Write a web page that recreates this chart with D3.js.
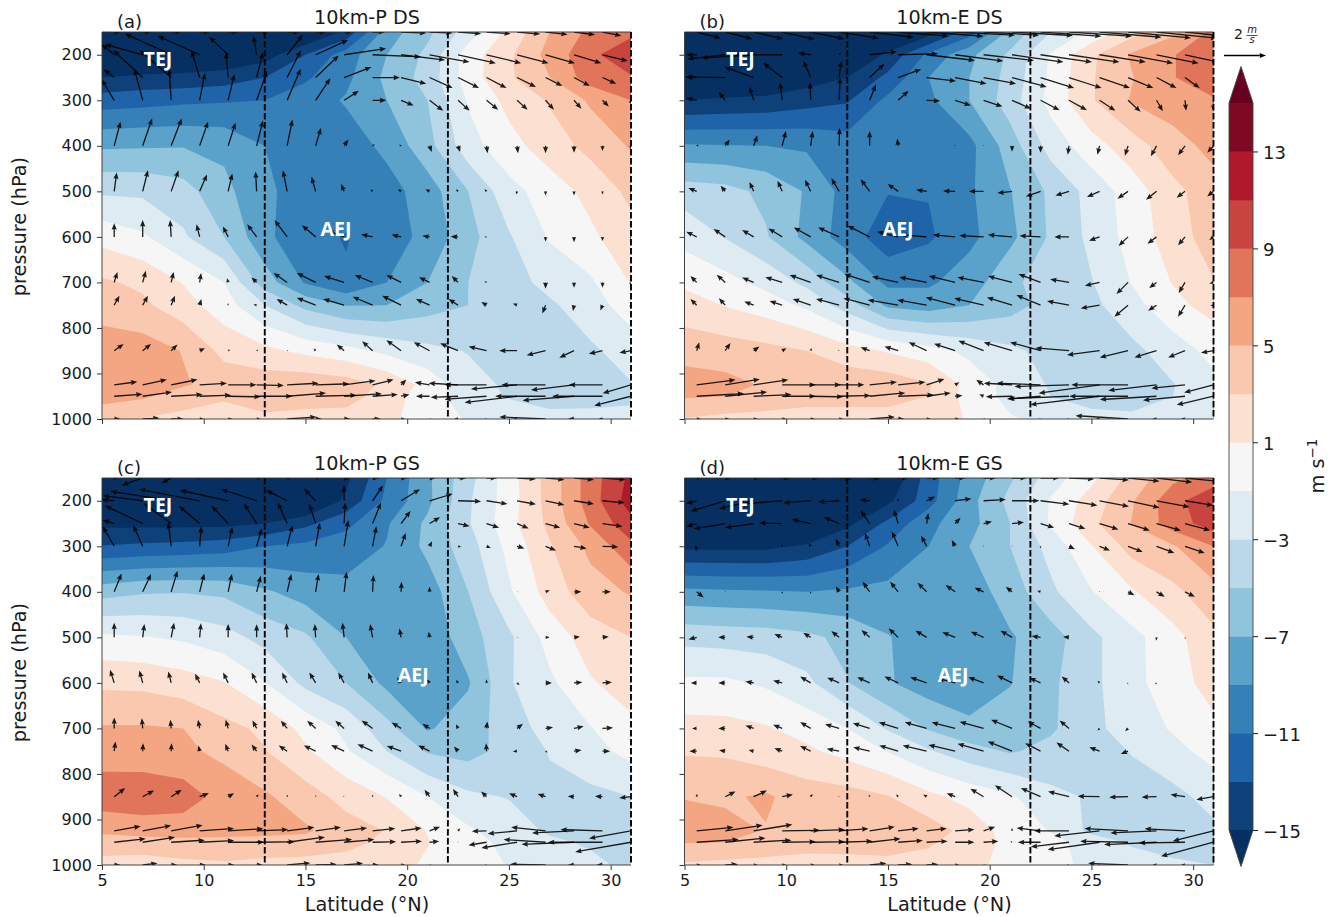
<!DOCTYPE html>
<html>
<head>
<meta charset="utf-8">
<title>10km zonal wind cross sections</title>
<script src="https://cdn.jsdelivr.net/npm/d3@7"></script>
<style>
  html, body { margin: 0; background: #fff; }
  text { font-family: "DejaVu Sans", sans-serif; fill: #1a1a1a; }
  .tick_lab { font-size: 16px; }
  .axis_lab { font-size: 19.3px; }
  .title { font-size: 19.2px; }
  .tag { font-size: 18px; }
  .jet { font-family: "Open Sans", sans-serif; font-weight: 700; font-size: 19.5px; fill: #fff; }
</style>
</head>
<body>
<svg id="chart" width="1341" height="917"></svg>
<script>
// grid of the contour fields
const pressure_levels = [150, 200, 250, 300, 400, 500, 600, 700, 750, 850, 925, 950, 1000];
const contour_lats = [5, 7, 9, 11, 13, 15, 17, 19, 21, 23, 25, 27, 29, 31];
const quiver_lats = [5.6, 7, 8.4, 9.8, 11.2, 12.6, 14.1, 15.5, 16.9, 18.3, 19.7, 21.1, 22.5, 23.9, 25.4, 26.8, 28.2, 29.6, 31];

// contour levels and colours, m/s
const bounds = [-15, -13, -11, -9, -7, -5, -3, -1, 1, 3, 5, 7, 9, 11, 13, 15];
const band_colors = ["#053061", "#0e4179", "#1f63a8", "#3680b8", "#5ba2cb", "#90c4dd", "#bad8e9", "#deebf2",
  "#f6f6f6", "#fce0d2", "#fac8ae", "#f4a582", "#e0755a", "#c8443f", "#b0182b", "#7f0823", "#67001f"];
const cbar_ticks = [-15, -11, -7, -3, 1, 5, 9, 13];
const lat_ticks = [5, 10, 15, 20, 25, 30];
const pressure_ticks = [200, 300, 400, 500, 600, 700, 800, 900, 1000];
const dashed_lats = [13, 22, 31];

// zonal wind, one row per pressure level
const wind_a = [
  [-19, -19, -19, -19, -19, -17.5, -14.5, -8, -5.5, -2, 1.5, 5, 7.5, 8.5],
  [-17.5, -17.5, -17.5, -17, -16, -13, -10, -7, -4.5, 0, 2.6, 5.7, 8.5, 10.5],
  [-15, -14.6, -14.4, -14, -13, -11.3, -9.5, -6.5, -4.2, 0, 2.7, 5, 8, 8.8],
  [-12, -11.7, -11.4, -11.2, -11, -10, -8.8, -7, -5, -0.8, 1.6, 3.2, 5.3, 7],
  [-7.3, -7.2, -7.1, -7.5, -9, -9.6, -10, -8.5, -5.7, -1.8, 0.3, 2, 3.6, 5.2],
  [-3.3, -3.4, -4.2, -6.4, -8.7, -9.7, -10, -9.8, -8, -5, -1.7, 0, 1.6, 3.5],
  [0.3, -0.7, -2.7, -5, -8.5, -10.5, -11.1, -10, -8.4, -5.7, -3.2, -0.8, 0.6, 2.3],
  [3.3, 2.6, 0.9, -1, -6, -9.2, -10.8, -9, -7, -5, -3.8, -2.4, -1.3, 1.1],
  [4.2, 3.4, 1.8, -0.1, -3, -5.6, -7.1, -7, -5.8, -5, -4.2, -3.3, -2, 0.1],
  [6, 6, 4.9, 2.4, 1.5, 0.5, -0.3, -1.5, -2.5, -3.1, -3.7, -3.8, -3.3, -2.2],
  [6.3, 6.2, 5.2, 4.2, 4.2, 4.4, 4, 2.6, 0.3, -2.3, -3.3, -3.9, -3.9, -3.1],
  [5.8, 5.3, 4, 3.3, 4, 3.9, 3.7, 2.2, -0.3, -1.9, -3.2, -4.4, -3.9, -3.4],
  [3.6, 2.9, 2.4, 2, 2.6, 2.3, 2.3, 1.4, 0.2, -1.2, -1.6, -1.9, -2.2, -2.4]
];
const wind_b = [
  [-19, -19, -19, -19, -19, -18, -16, -12, -6.5, -3, -0.5, 2.2, 4.5, 7.5],
  [-18.5, -19, -19, -18.5, -18, -14.5, -10.5, -7.5, -4.6, -0.8, 2.6, 5.3, 6.9, 8.2],
  [-17.5, -17.5, -17, -16, -15, -12.5, -9, -7, -4.3, -0.6, 2.8, 4.9, 6.9, 8.2],
  [-15, -14.7, -14.5, -13.8, -13.2, -10.5, -9.4, -7, -4, -0.3, 2.8, 5.2, 6, 6.8],
  [-8.8, -8.9, -9, -9.3, -10, -10.3, -10.5, -9.6, -6, -2.2, 0.2, 2.1, 4.2, 5.6],
  [-3.9, -4.3, -5.5, -7.2, -9.8, -10.9, -10.9, -9.3, -7.1, -4.6, -2.3, 0, 2.4, 4.2],
  [-1.7, -3.1, -4.8, -7.6, -10, -12.2, -11.3, -9.5, -7.5, -4.7, -2.5, -0.2, 2, 4],
  [0.6, -0.3, -1.6, -3.5, -6.5, -9.5, -9.3, -8, -5.5, -3.9, -3.1, -0.9, 1.1, 2.9],
  [1.9, 0.9, 0, -1.4, -4, -7.4, -8, -7, -5.8, -4.2, -3.5, -1.7, 0.4, 1.8],
  [4.2, 4, 3.6, 3, 1.8, 0.8, -0.2, -1.5, -2.6, -3.6, -4, -3.5, -2, -0.4],
  [6, 5.6, 4.8, 4.2, 4.4, 4.3, 3.2, 0.3, -1.7, -3.2, -4, -4.4, -3.1, -1.5],
  [5.2, 5, 4.5, 3.9, 3.8, 3.8, 3, 0.2, -1.6, -3, -4.2, -4.6, -3, -1.8],
  [2.9, 2.4, 2.2, 2, 2.1, 2.1, 2.1, 0.8, -0.8, -1.6, -2, -2.2, -2.3, -2.4]
];
const wind_c = [
  [-20, -20, -20, -20, -20, -19, -15.5, -11, -7.4, -3.7, 0.1, 3.8, 8, 11.5],
  [-19, -19, -19, -19, -19, -18, -14.5, -10.5, -7.5, -3.3, 0, 3.8, 8, 12],
  [-15.5, -15.5, -15.5, -15.5, -15, -13.5, -11.5, -9.2, -6.6, -3.2, 0.3, 3.5, 7.2, 10.4],
  [-12.9, -12.6, -12.4, -12, -11, -10.5, -10, -8.9, -6.5, -3.9, -0.4, 2.8, 5.5, 8.5],
  [-5.8, -5.2, -5.1, -5.4, -6.7, -7.9, -8.4, -8.5, -8, -5, -1.3, 1.9, 4.2, 5.2],
  [-0.6, -0.9, -1.3, -2.2, -3.7, -4.7, -7, -8, -8.4, -5.9, -3.4, -0.2, 2, 3],
  [2.6, 2.5, 1.9, 1.1, -0.9, -3.5, -5, -7.5, -8.4, -7.2, -3.2, -1.4, 0.8, 1.9],
  [5.2, 5.2, 5, 3.6, 2.6, 0.4, -1.5, -4.3, -7.2, -6, -4, -2.2, -1.1, 0.5],
  [6, 5.9, 5.4, 4.5, 3.1, 1.3, -0.8, -3, -5.2, -5.7, -4.3, -2.9, -1.7, -0.4],
  [8.2, 8.3, 8, 6.2, 5.3, 3.9, 2.3, 0.9, -1, -2.6, -3.1, -3.4, -3.5, -3],
  [5.4, 5.9, 5.9, 5.6, 5.5, 5.3, 3.9, 2.9, 0.9, -0.7, -2, -3.3, -3.6, -3.8],
  [3.9, 4.1, 4.4, 4.5, 4.4, 4.2, 3.5, 2.6, 1.1, -0.2, -1.6, -2.6, -3.3, -4],
  [2.4, 2.1, 2.5, 2.7, 2.4, 2.3, 2.3, 1.8, 0.7, -0.1, -1.1, -1.7, -2.4, -3.6]
];
const wind_d = [
  [-19, -19, -19, -19, -19, -17, -12, -8.2, -5.3, -2, 0.5, 3.7, 6.5, 8],
  [-19.5, -19.5, -19.5, -19.5, -18.5, -15.5, -11.8, -7.7, -4.4, -0.8, 1.9, 4.8, 8.3, 10.5],
  [-20, -20, -19, -18, -15.5, -12.5, -9.5, -7.7, -5, -0.7, 2.5, 5.1, 8, 10],
  [-15.5, -15.5, -15.5, -14.7, -13, -10.8, -9, -7, -5, -2.3, 0.9, 3.8, 4.8, 7],
  [-8.5, -8.7, -8.8, -9, -8.7, -8.4, -8.2, -8, -6.1, -3.4, -1.1, 0.8, 2.5, 4.3],
  [-3.6, -3.8, -4, -4.5, -5.6, -6.9, -8, -8.2, -7.2, -5.9, -3.5, -1.6, 0.3, 2.5],
  [-0.6, -0.6, -1.3, -2.5, -4.9, -6.8, -8, -8.3, -7.1, -5.4, -3.5, -1.6, 0.1, 1.8],
  [1.7, 1.6, 1.2, 0.2, -1, -3.2, -5.2, -6.5, -6, -5.3, -3.5, -2.1, -0.8, 0.5],
  [2.8, 2.7, 1.8, 1.4, 0.3, -1.1, -2.8, -4.2, -5.2, -4.4, -3.8, -2.9, -1.6, -0.3],
  [4.9, 4.7, 5.3, 4, 3.8, 3.1, 1.5, 0.3, -0.7, -2.5, -3.2, -3.8, -3.6, -2.3],
  [6, 5.6, 4.9, 4.2, 5, 4.6, 4, 2.3, 0.1, -1.1, -3.5, -4, -4.1, -3.4],
  [5.1, 5, 4.5, 3.9, 3.9, 3.9, 3.3, 2, 0.5, -0.4, -1.8, -3.3, -4.1, -3.6],
  [2.7, 2.4, 2.2, 2.1, 2.2, 2.4, 2.1, 1.6, 0.3, -0.5, -1.4, -1.9, -2.5, -3]
];

// wind vectors: u and scaled vertical component, one row per pressure level
const u_a = [
  [0.3, 0.4, 0.5, 0.5, 0.5, 0.6, 0.6, 0.5, 0.4, 0.6, 1.2, 1.1, 1.1, 1.15, 1.1, 1.05, 1, 0.9, 0.5],
  [-0.6, -1.8, -2.2, -2, -0.9, -0.15, 0.75, 1.55, 2, 2.3, 2.1, 1.9, 1.8, 1.65, 1.5, 1.4, 1.3, 1.2, 1],
  [-0.5, -1.4, -1.5, -0.4, -0.1, 0.3, 0.65, 1.1, 1.3, 1.3, 1.2, 1.1, 1, 0.95, 0.9, 0.8, 0.75, 0.65, 0.4],
  [-0.6, -0.4, -0.1, 0.25, 0.3, 0.5, 0.65, 0.7, 0.7, 0.65, 0.6, 0.65, 0.55, 0.55, 0.5, 0.4, 0.35, 0.3, 0.1],
  [0.3, 0.45, 0.5, 0.4, 0.35, 0.3, 0.25, 0.25, 0.2, 0.1, -0.1, 0.1, 0.1, 0.05, 0.05, 0, 0, 0, 0],
  [0.12, 0.25, 0.35, 0.35, 0.2, -0.05, -0.2, -0.2, -0.15, -0.1, -0.15, -0.2, -0.1, -0.1, -0.05, 0, 0, 0, 0],
  [0, 0, -0.05, -0.15, -0.25, -0.45, -0.6, -0.65, -0.8, -0.55, -0.45, -0.35, -0.35, -0.1, 0, 0, 0, 0, 0],
  [0.15, 0.15, 0.12, 0.07, -0.05, -0.25, -0.65, -0.9, -0.95, -0.85, -0.7, -0.5, -0.3, -0.1, 0, 0, 0, 0, 0],
  [0.25, 0.25, 0.18, 0.08, 0, -0.15, -0.5, -0.9, -1, -0.95, -0.9, -0.65, -0.45, -0.25, -0.2, -0.15, -0.05, -0.1, 0],
  [0.45, 0.4, 0.3, 0.25, 0.1, 0.08, 0.05, -0.1, -0.35, -0.5, -0.7, -0.75, -0.85, -0.85, -0.85, -0.9, -0.7, -0.65, -0.55],
  [1.1, 1.15, 1.25, 1.3, 1.35, 1.3, 1.5, 1.6, 1.5, 1, 0.25, -0.7, -1.4, -2, -2.2, -2.1, -2.05, -1.6, -1.35],
  [1.35, 1.4, 1.5, 1.5, 1.55, 1.7, 1.85, 1.95, 1.8, 1.2, 0.4, -0.65, -1.3, -2, -2.5, -2.4, -2.45, -2.4, -1.75],
  [0.3, 0.8, 0.6, 0.2, 0.2, 0.2, 1.4, 0.3, 0.3, 0.4, 0.2, 0.1, -0.2, -0.1, -0.2, -2.2, -0.3, -0.2, 0]
];
const w_a = [
  [0, 0, 0, 0, 0, 0, 0, 0, 0, 0, -0.05, -0.05, -0.08, -0.08, -0.1, -0.12, -0.13, -0.18, -0.1],
  [0.5, 0.5, 1, 0.9, 0.85, 0.9, 0.95, 0.7, 0.3, -0.1, -0.25, -0.35, -0.4, -0.4, -0.4, -0.4, -0.4, -0.3, -0.2],
  [0.4, 1.3, 1.3, 1.3, 1.2, 1.2, 1.3, 1.05, 0.5, 0, -0.3, -0.5, -0.5, -0.5, -0.45, -0.4, -0.4, -0.3, -0.2],
  [1, 1.5, 1.5, 1.3, 1.25, 1.4, 1.5, 1.05, 0.45, 0, -0.25, -0.5, -0.5, -0.45, -0.45, -0.45, -0.4, -0.3, -0.3],
  [1.15, 1.3, 1.3, 1.15, 1.1, 1.2, 1.25, 0.85, 0.3, 0.08, 0.05, -0.3, -0.3, -0.35, -0.35, -0.35, -0.33, -0.25, -0.2],
  [0.9, 1, 1, 0.8, 0.85, 0.95, 1, 0.7, 0.35, 0.1, 0.1, 0.1, 0.1, 0.1, -0.15, -0.2, -0.2, -0.15, -0.1],
  [0.65, 0.8, 0.8, 0.6, 0.5, 0.6, 0.8, 0.55, 0.3, 0.12, 0.1, 0.05, 0.02, 0, 0, -0.22, -0.25, -0.2, -0.15],
  [0.5, 0.55, 0.5, 0.45, 0.2, 0.25, 0.45, 0.45, 0.3, 0.35, 0.35, 0.25, 0.3, 0.05, 0, -0.3, -0.25, -0.25, -0.2],
  [0.45, 0.45, 0.45, 0.3, 0.1, 0.03, 0.3, 0.35, 0.3, 0.4, 0.45, 0.3, 0.3, 0.15, 0.08, -0.4, -0.28, -0.25, -0.2],
  [0.32, 0.32, 0.3, 0.12, 0.05, 0.05, 0.03, 0.1, 0.3, 0.45, 0.5, 0.4, 0.35, 0.2, 0, -0.22, -0.33, -0.15, -0.1],
  [0.15, 0.25, 0.25, 0.08, 0, -0.03, 0.08, 0.05, 0.2, 0.25, 0.25, 0.12, 0.08, 0, -0.2, 0, -0.25, 0, -0.4],
  [0.1, 0.2, 0.08, 0.05, -0.03, 0, 0.15, 0.05, 0.12, 0.08, 0.08, 0, -0.05, -0.15, -0.3, 0, -0.2, 0, -0.45],
  [0, 0.05, 0, 0, 0, 0, 0.1, 0, 0, 0, 0, 0, 0, 0, 0, 0.1, 0, 0, 0]
];
const u_b = [
  [1.15, 1.3, 1.4, 1.55, 1.6, 1.9, 2.1, 2.4, 2.7, 2.85, 2.65, 2.9, 2.9, 3, 2.95, 3, 2.9, 2.9, 2.5],
  [-0.5, -1.8, -2.5, -2.3, -0.6, 0.1, 1.3, 1.9, 2.3, 2.3, 2.4, 2.45, 2.45, 2.4, 2.2, 2.15, 2, 1.6, 1.2],
  [-0.5, -1.9, -1.4, -0.9, -0.35, 0.1, 0.7, 1.1, 1.4, 1.5, 1.55, 1.65, 1.6, 1.55, 1.45, 1.2, 0.95, 0.7, 0.4],
  [-0.5, -0.3, -0.2, -0.1, -0.03, 0.05, 0.3, 0.5, 0.65, 0.75, 0.9, 0.9, 0.9, 0.85, 0.75, 0.6, 0.3, 0.05, 0],
  [0.1, 0.22, 0.18, 0.18, 0.1, 0.02, 0, -0.04, 0, -0.03, 0, 0, 0, -0.06, -0.1, -0.15, -0.27, -0.33, -0.3],
  [-0.4, -0.22, -0.2, -0.22, -0.27, -0.37, -0.43, -0.5, -0.5, -0.57, -0.7, -0.7, -0.7, -0.65, -0.6, -0.5, -0.5, -0.4, -0.3],
  [-0.5, -0.55, -0.55, -0.65, -0.8, -1, -1.05, -1, -1.25, -1.05, -1.15, -1.15, -1, -0.7, -0.5, -0.45, -0.43, -0.33, -0.2],
  [-0.3, -0.4, -0.55, -0.8, -1, -1.1, -1.2, -1.25, -1.3, -1.25, -1.25, -1.15, -1.05, -0.9, -0.7, -0.55, -0.35, -0.3, -0.2],
  [-0.3, -0.3, -0.45, -0.6, -0.85, -1.1, -1.25, -1.45, -1.4, -1.4, -1.4, -1.2, -1.15, -1.05, -0.9, -0.65, -0.4, -0.33, -0.15],
  [0.12, 0.25, 0.27, 0.2, 0.05, -0.05, -0.43, -0.65, -0.85, -1, -1.2, -1.35, -1.45, -1.6, -1.55, -1.35, -1.05, -0.8, -0.6],
  [1.85, 1.65, 1.65, 1.6, 1.45, 1.2, 1.3, 1.3, 0.85, 0.2, -0.35, -1.35, -2.1, -2.6, -2.9, -2.7, -2.3, -1.6, -1.4],
  [2.25, 2, 1.8, 1.6, 1.55, 1.5, 1.7, 1.7, 1.15, 0.35, -0.2, -1.25, -1.6, -2.9, -3.3, -2.8, -2.7, -2, -1.75],
  [0.2, 0.2, 0.2, 0.2, 0.2, 0.2, 1.2, 0.3, 0.2, 0.2, 0.1, 0, -0.1, -0.1, -0.2, -2.5, -0.2, -0.2, 0]
];
const w_b = [
  [-0.3, -0.33, -0.33, -0.35, -0.33, -0.3, -0.25, -0.2, -0.2, -0.15, -0.15, -0.17, -0.2, -0.2, -0.25, -0.28, -0.3, -0.3, -0.2],
  [0, -0.2, -0.15, 0, 0.08, 0.1, 0.15, 0.05, -0.27, -0.3, -0.27, -0.35, -0.35, -0.35, -0.35, -0.4, -0.4, -0.35, -0.3],
  [0.03, 0.03, 0.5, 0.7, 0.8, 0.8, 0.65, 0.4, -0.17, -0.3, -0.3, -0.45, -0.5, -0.5, -0.5, -0.5, -0.5, -0.5, -0.4],
  [0.1, 0.4, 0.65, 0.85, 0.85, 1.1, 0.75, 0.45, -0.03, -0.25, -0.3, -0.4, -0.47, -0.47, -0.5, -0.55, -0.52, -0.5, -0.55],
  [0.05, 0.3, 0.5, 0.7, 0.7, 0.85, 0.7, 0.35, 0, 0.05, 0.05, -0.28, -0.33, -0.42, -0.42, -0.47, -0.5, -0.45, -0.33],
  [0.16, 0.27, 0.45, 0.5, 0.55, 0.63, 0.58, 0.35, 0.08, 0.02, 0, -0.08, -0.24, -0.2, -0.27, -0.35, -0.4, -0.3, -0.24],
  [0.25, 0.38, 0.33, 0.4, 0.45, 0.45, 0.53, 0.25, 0.1, 0.1, 0.06, 0.1, 0.05, 0, -0.18, -0.43, -0.33, -0.4, -0.15],
  [0.3, 0.37, 0.23, 0.25, 0.35, 0.35, 0.4, 0.28, 0.25, 0.3, 0.25, 0.3, 0.4, 0.15, -0.16, -0.55, -0.27, -0.5, -0.05],
  [0.3, 0.33, 0.17, 0.2, 0.3, 0.3, 0.33, 0.25, 0.25, 0.37, 0.33, 0.37, 0.48, 0.2, -0.15, -0.55, -0.27, -0.55, -0.03],
  [0.4, 0.37, 0.2, 0.12, 0.13, 0.05, 0.16, 0.2, 0.4, 0.33, 0.48, 0.4, 0.4, 0.13, -0.2, -0.32, -0.32, -0.32, -0.1],
  [0.24, 0.27, 0.24, 0, 0, 0, 0.13, 0.13, 0.28, 0.12, 0.24, 0.08, 0.08, -0.08, -0.4, 0, -0.27, -0.16, -0.37],
  [0.13, 0.2, 0.08, 0, -0.03, 0.03, 0.16, 0.06, 0.16, 0.03, 0.1, -0.03, -0.13, -0.12, -0.4, 0, -0.16, -0.19, -0.41],
  [0, 0, 0, 0, 0, 0, 0.1, 0, 0, 0, 0, 0, 0, 0, 0, 0.16, 0, 0, 0]
];
const u_c = [
  [0.2, -1, -0.45, -0.1, 0.1, 0.2, 0.2, 0.2, 0.3, 0.3, 0.3, 0.3, 0.4, 0.5, 0.9, 0.9, 0.95, 1.1, 0.8],
  [-0.6, -1.9, -2.9, -2.9, -2.3, -1.7, -1, -0.55, 0, 0.5, 0.9, 1.1, 1.1, 1, 0.9, 0.9, 0.95, 1.05, 0.8],
  [-0.55, -1.8, -1.3, -1, -0.8, -0.6, -0.45, -0.3, 0.05, 0.4, 0.45, 0.5, 0.55, 0.6, 0.55, 0.7, 0.75, 0.95, 0.6],
  [-0.55, -0.45, -0.14, 0.08, 0.2, 0.25, 0.25, 0.2, 0.2, 0.18, 0.22, 0.12, 0.15, 0.2, 0.35, 0.5, 0.6, 0.75, 0.4],
  [0.35, 0.4, 0.3, 0.22, 0.18, 0.2, 0.2, 0.14, 0.12, 0.04, 0.02, 0, 0, 0, 0.02, 0.2, 0.35, 0.4, 0.2],
  [0, 0.08, 0.14, 0.06, 0, 0, -0.04, -0.04, -0.08, -0.12, -0.08, -0.04, 0, 0, 0.04, 0.2, 0.28, 0.3, 0.15],
  [-0.2, -0.16, -0.14, -0.22, -0.24, -0.24, -0.24, -0.3, -0.28, -0.22, -0.2, -0.14, -0.1, 0, 0.12, 0.3, 0.4, 0.45, 0.2],
  [0, -0.04, -0.04, -0.08, -0.12, -0.2, -0.3, -0.4, -0.42, -0.52, -0.45, -0.34, -0.1, 0.04, 0.28, 0.36, 0.46, 0.5, 0.2],
  [0.06, 0.02, 0.02, -0.06, -0.14, -0.24, -0.4, -0.56, -0.62, -0.72, -0.68, -0.54, -0.2, -0.02, -0.2, 0.1, 0.36, 0.36, 0.2],
  [0.52, 0.54, 0.5, 0.44, 0.28, 0.1, 0.02, 0.02, -0.04, 0, -0.1, -0.24, -0.24, -0.26, -0.38, -0.38, -0.3, -0.36, -0.56],
  [1.26, 1.36, 1.5, 1.64, 1.68, 1.5, 1.3, 1.2, 1.1, 1.08, 0.98, 0.5, 0.1, -0.7, -1.4, -1.64, -2, -2, -2],
  [1.5, 1.54, 1.6, 1.64, 1.72, 1.82, 1.8, 1.74, 1.44, 1.12, 1, 0.46, 0, -0.86, -1.7, -2, -2.5, -2.6, -2.66],
  [0.3, 0.7, 0.3, 0.3, 0.3, 0.3, 1.1, 1, 0.9, 0.3, 0.2, 0.1, 0, -0.1, -0.2, -1.7, -0.3, -0.3, 0]
];
const w_c = [
  [0, -0.35, -0.25, -0.05, 0, 0, 0, 0, 0, 0, 0, 0, 0, 0, -0.05, -0.08, -0.08, -0.08, -0.05],
  [0.05, 0.25, 0.45, 0.55, 0.5, 0.55, 0.5, 0.57, 0.73, 0.73, 0.55, 0.33, -0.03, -0.15, -0.17, -0.2, -0.15, -0.1, -0.1],
  [0.17, 0.85, 0.95, 0.85, 0.85, 0.95, 1, 0.93, 1, 1, 0.6, 0.3, -0.13, -0.2, -0.24, -0.2, -0.2, -0.14, -0.1],
  [0.95, 1, 1.15, 0.95, 0.92, 0.85, 1, 1.12, 1.25, 0.95, 0.63, 0.24, -0.03, -0.08, -0.1, -0.2, -0.1, -0.03, 0],
  [0.87, 0.85, 1, 0.87, 0.85, 0.76, 0.85, 0.85, 0.95, 0.8, 0.48, 0.24, 0, 0.02, 0.04, 0.08, 0, 0, 0],
  [0.7, 0.63, 0.7, 0.67, 0.63, 0.62, 0.67, 0.63, 0.7, 0.63, 0.43, 0.27, 0, 0, 0.02, 0, 0.03, 0.03, 0],
  [0.62, 0.59, 0.54, 0.43, 0.49, 0.49, 0.49, 0.49, 0.49, 0.49, 0.27, 0.17, 0.14, 0.17, -0.1, 0, 0.03, 0.03, 0],
  [0.52, 0.49, 0.41, 0.41, 0.41, 0.38, 0.37, 0.37, 0.37, 0.38, 0.28, 0.22, 0.2, 0.33, 0.22, 0.06, 0.1, 0.03, 0],
  [0.46, 0.38, 0.38, 0.27, 0.35, 0.32, 0.27, 0.27, 0.29, 0.33, 0.25, 0.27, 0.22, 0.38, -0.02, -0.06, 0.06, 0, 0],
  [0.41, 0.3, 0.33, 0.17, 0.17, 0.1, 0.1, 0.08, 0.05, 0.1, 0.13, 0.33, 0.37, 0.25, 0.17, 0.13, 0.02, 0.02, -0.06],
  [0.22, 0.25, 0.27, 0.11, 0.1, 0.06, 0.17, 0.17, 0.14, 0.11, 0.14, 0.19, 0.13, -0.02, -0.14, 0.17, -0.1, 0.06, -0.36],
  [0.17, 0.24, 0.1, 0.08, 0, 0.02, 0.24, 0.13, 0.13, 0.02, 0.05, 0.05, 0.05, -0.14, -0.27, 0.13, -0.1, 0, -0.46],
  [0, 0.08, 0, 0, 0, 0, 0.1, 0.03, 0.08, 0, 0, 0, 0, 0, 0, 0.03, 0, 0, 0]
];
const u_d = [
  [0.2, 0.3, 0.3, 0.4, 0.4, 0.6, 0.5, 0.5, 0.6, 0.5, 0.6, 0.7, 0.9, 1.2, 1.4, 1.5, 1.7, 2, 1.6],
  [-0.5, -1.65, -1.65, -2.1, -1.3, -1, -0.47, -0.05, 0.4, 0.78, 1.06, 1.3, 1.37, 1.35, 1.4, 1.5, 1.57, 1.35, 0.9],
  [-0.5, -1.5, -1.37, -1.1, -0.9, -0.73, -0.43, -0.2, 0.08, 0.26, 0.4, 0.57, 0.65, 0.78, 0.9, 1.04, 1.16, 1.2, 0.8],
  [-0.04, 0, 0, -0.05, -0.1, -0.16, -0.22, -0.3, -0.26, -0.16, 0, 0, 0, 0.28, 0.5, 0.7, 0.85, 0.94, 0.5],
  [0.33, 0.02, 0, 0, 0, -0.16, -0.33, -0.38, -0.43, -0.45, -0.43, -0.3, -0.16, 0, 0.02, 0.3, 0.39, 0.47, 0.3],
  [-0.39, -0.33, -0.35, -0.37, -0.35, -0.37, -0.39, -0.45, -0.53, -0.61, -0.61, -0.55, -0.43, -0.28, 0, 0, -0.02, 0.02, 0],
  [-0.28, -0.33, -0.39, -0.43, -0.5, -0.57, -0.59, -0.65, -0.78, -0.82, -0.73, -0.71, -0.53, -0.35, -0.1, -0.04, -0.08, 0, 0],
  [-0.22, -0.33, -0.39, -0.43, -0.5, -0.67, -0.8, -0.92, -1.04, -1.12, -1.14, -1, -0.61, -0.45, -0.1, -0.14, 0, 0, 0],
  [-0.35, -0.29, -0.24, -0.37, -0.5, -0.59, -0.78, -0.9, -1.14, -1.27, -1.24, -1.16, -0.73, -0.6, -0.49, -0.35, 0, 0, 0],
  [0.02, 0.49, 0.63, 0.51, 0.1, -0.04, -0.04, -0.1, -0.16, -0.4, -0.63, -0.82, -0.94, -1, -1.04, -0.9, -0.71, -0.69, -0.82],
  [1.75, 1.78, 1.84, 1.8, 1.63, 1.4, 1.2, 0.98, 0.96, 0.92, 0.55, 0, -1.14, -1.67, -2.16, -2.08, -2.2, -1.92, -1.94],
  [2, 1.92, 1.8, 1.6, 1.63, 1.6, 1.47, 1.18, 1, 0.92, 0.7, -0.08, -1.08, -1.82, -2.47, -2.28, -2.5, -2.2, -2.5],
  [0.2, 0.6, 0.2, 0.2, 0.2, 0.2, 0.8, 0.67, 0.55, 0.2, 0.1, 0, 0, -0.1, -0.1, -1.9, -0.2, -0.2, 0]
];
const w_d = [
  [0, 0, 0, 0, 0, -0.03, -0.03, 0, 0, 0, 0, 0, 0, -0.05, -0.1, -0.15, -0.2, -0.2, -0.1],
  [-0.14, -0.5, -0.38, -0.17, -0.1, -0.05, 0.05, 0.1, 0.2, 0.1, 0.06, 0, -0.17, -0.22, -0.27, -0.33, -0.3, -0.22, -0.2],
  [-0.14, -0.25, -0.2, 0.03, 0.2, 0.3, 0.62, 0.65, 0.5, 0.27, 0.1, 0.06, -0.2, -0.25, -0.28, -0.33, -0.33, -0.33, -0.2],
  [-0.24, 0, 0, 0.1, 0.15, 0.37, 0.63, 0.71, 0.5, 0.3, 0.05, 0.05, -0.1, -0.14, -0.2, -0.27, -0.32, -0.32, -0.2],
  [-0.27, 0.05, 0, -0.1, -0.1, 0.27, 0.48, 0.48, 0.43, 0.32, 0.19, 0.24, 0.05, 0, 0.05, -0.16, -0.24, -0.24, -0.15],
  [-0.1, 0, 0.03, 0.16, 0.22, 0.3, 0.35, 0.43, 0.32, 0.24, 0.27, 0.32, 0.06, 0.03, 0, 0, -0.16, -0.08, 0],
  [0, 0, 0.06, 0.11, 0.3, 0.25, 0.27, 0.3, 0.27, 0.22, 0.27, 0.35, 0.24, 0.3, 0.1, -0.06, -0.06, 0, 0],
  [0, 0, 0.14, 0.17, 0.3, 0.2, 0.25, 0.29, 0.29, 0.29, 0.32, 0.41, 0.33, 0.38, -0.1, -0.14, 0, 0, 0],
  [0, 0.05, 0.06, 0.14, 0.25, 0.11, 0.19, 0.27, 0.27, 0.3, 0.35, 0.46, 0.38, 0.41, 0.19, -0.13, 0, 0, 0],
  [0.14, 0.25, 0.29, 0.1, 0.13, 0.05, 0.1, 0.1, 0.1, 0.17, 0.38, 0.54, 0.41, 0.25, 0.02, -0.02, -0.02, 0.1, -0.14],
  [0.17, 0.27, 0.3, 0.03, 0.06, 0.1, 0.19, 0.11, 0.11, 0.06, 0.19, 0.14, 0.14, 0, -0.25, 0.11, -0.1, 0.1, -0.49],
  [0.13, 0.2, 0.1, 0.02, 0.02, 0.05, 0.17, 0.08, 0.05, 0, 0.05, 0.05, 0, -0.22, -0.35, 0.05, -0.11, -0.03, -0.67],
  [0, 0.03, 0, 0, 0, 0, 0.08, 0.03, 0.03, 0, 0, 0, 0, 0, 0, 0.08, 0, 0, 0]
];

// panels
const panels = [
  { id: "a", title: "10km-P DS", left: 102, top: 32, wind: wind_a, u: u_a, w: w_a, tag: "(a)", tej: [7.75, 211], aej: [16.5, 584], x_labels: false, y_labels: true },
  { id: "b", title: "10km-E DS", left: 684.5, top: 32, wind: wind_b, u: u_b, w: w_b, tag: "(b)", tej: [7.75, 211], aej: [15.5, 584], x_labels: false, y_labels: false },
  { id: "c", title: "10km-P GS", left: 102, top: 478, wind: wind_c, u: u_c, w: w_c, tag: "(c)", tej: [7.75, 211], aej: [20.3, 584], x_labels: true, y_labels: true },
  { id: "d", title: "10km-E GS", left: 684.5, top: 478, wind: wind_d, u: u_d, w: w_d, tag: "(d)", tej: [7.75, 211], aej: [18.2, 584], x_labels: true, y_labels: false }
];

const plot_width = 529;
const plot_height = 387;
const px_per_ms = 21; // quiver scale, 2 m/s = 42 px

const svg = d3.select("#chart");
const x_scale = d3.scaleLinear().domain([5, 31]).range([0, plot_width]);
const y_scale = d3.scaleLinear().domain([150, 1000]).range([0, plot_height]);

// grid index -> data coordinate (pressure grid is not uniform)
const lat_of_index = d3.scaleLinear().domain(d3.range(contour_lats.length)).range(contour_lats).clamp(true);
const p_of_index = d3.scaleLinear().domain(d3.range(pressure_levels.length)).range(pressure_levels).clamp(true);

function contourPath(geometry) {
  var out = "";
  geometry.coordinates.forEach(function (polygon) {
    polygon.forEach(function (ring) {
      out += "M" + ring.map(function (pt) {
        // d3.contours puts grid values at cell centres
        return x_scale(lat_of_index(pt[0] - 0.5)).toFixed(2) + "," + y_scale(p_of_index(pt[1] - 0.5)).toFixed(2);
      }).join("L") + "Z";
    });
  });
  return out;
}

// filled arrow polygon, tail at 0,0, pointing along +x
function arrowPath(len) {
  const k = Math.min(1, len / 6.5);
  const shaft = 0.65 * k, head = 2.6 * k, head_len = 6.5 * k, notch = 5.8 * k;
  return [[0, -shaft], [len - notch, -shaft], [len - head_len, -head], [len, 0], [len - head_len, head], [len - notch, shaft], [0, shaft]]
    .map(function (p) { return p[0].toFixed(2) + "," + p[1].toFixed(2); }).join(" ");
}

function drawPanel(panel) {
  const g = svg.append("g")
    .attr("class", "panel")
    .attr("id", "panel_" + panel.id)
    .attr("transform", "translate(" + panel.left + "," + panel.top + ")");

  g.append("clipPath").attr("id", "clip_" + panel.id)
    .append("rect").attr("width", plot_width).attr("height", plot_height);

  const plot = g.append("g").attr("clip-path", "url(#clip_" + panel.id + ")");

  // filled contours, painted from low to high
  plot.append("rect").attr("width", plot_width).attr("height", plot_height).attr("fill", band_colors[0]);

  const contours = d3.contours()
    .size([contour_lats.length, pressure_levels.length])
    .thresholds(bounds)(panel.wind.flat());

  plot.append("g").attr("class", "bands")
    .selectAll("path")
    .data(contours)
    .enter()
    .append("path")
    .attr("d", contourPath)
    .attr("fill", function (d, i) { return band_colors[i + 1]; })
    .attr("fill-rule", "evenodd");

  // wind vectors
  const arrows = [];
  pressure_levels.forEach(function (p, r) {
    quiver_lats.forEach(function (lat, c) {
      arrows.push({ lat: lat, p: p, u: panel.u[r][c], w: panel.w[r][c] });
    });
  });

  plot.append("g").attr("class", "quiver")
    .selectAll("polygon")
    .data(arrows)
    .enter()
    .append("polygon")
    .attr("points", function (d) { return arrowPath(Math.hypot(d.u, d.w) * px_per_ms); })
    .attr("transform", function (d) {
      const angle = Math.atan2(-d.w, d.u) * 180 / Math.PI;
      return "translate(" + x_scale(d.lat) + "," + y_scale(d.p) + ") rotate(" + angle + ")";
    })
    .attr("fill", "#000")
    .attr("fill-opacity", 0.88);

  // box boundaries
  g.append("g").attr("class", "dashes")
    .selectAll("line")
    .data(dashed_lats)
    .enter()
    .append("line")
    .attr("x1", function (d) { return x_scale(d); })
    .attr("x2", function (d) { return x_scale(d); })
    .attr("y1", 0)
    .attr("y2", plot_height)
    .attr("stroke", "#000")
    .attr("stroke-width", 1.9)
    .attr("stroke-dasharray", "6.5,2.5");

  // axes
  const x_axis = d3.axisBottom(x_scale).tickValues(lat_ticks).tickSize(5).tickPadding(5)
    .tickFormat(panel.x_labels ? d3.format("d") : "");
  const y_axis = d3.axisLeft(y_scale).tickValues(pressure_ticks).tickSize(5).tickPadding(5)
    .tickFormat(panel.y_labels ? d3.format("d") : "");

  const x_g = g.append("g").attr("class", "x_axis")
    .attr("transform", "translate(0," + plot_height + ")").call(x_axis);
  const y_g = g.append("g").attr("class", "y_axis").call(y_axis);
  [x_g, y_g].forEach(function (a) {
    a.selectAll("text").attr("class", "tick_lab").attr("font-family", null).attr("fill", null);
    a.selectAll("line").attr("stroke", "#222").attr("stroke-width", 0.9);
    a.select(".domain").remove();
  });

  // spines (the right one is covered by the dashes)
  g.append("path")
    .attr("d", "M" + plot_width + ",0H0V" + plot_height + "H" + plot_width)
    .attr("fill", "none")
    .attr("stroke", "#333")
    .attr("stroke-width", 0.9);

  g.append("text").attr("class", "title")
    .attr("x", plot_width / 2 + 0.5).attr("y", -8).attr("text-anchor", "middle").text(panel.title);
  g.append("text").attr("class", "tag")
    .attr("x", 15).attr("y", -4).text(panel.tag);

  if (panel.x_labels) {
    g.append("text").attr("class", "axis_lab")
      .attr("x", plot_width / 2 + 0.5).attr("y", plot_height + 46).attr("text-anchor", "middle").text("Latitude (°N)");
  }
  if (panel.y_labels) {
    g.append("text").attr("class", "axis_lab")
      .attr("transform", "translate(-76," + (plot_height / 2 + 1) + ") rotate(-90)")
      .attr("text-anchor", "middle").text("pressure (hPa)");
  }

  [["TEJ", panel.tej], ["AEJ", panel.aej]].forEach(function (lab) {
    g.append("text").attr("class", "jet")
      .attr("x", x_scale(lab[1][0])).attr("y", y_scale(lab[1][1]) + 6)
      .attr("text-anchor", "middle").text(lab[0]);
  });
}

panels.forEach(drawPanel);

// colour bar
const cbar_x = 1229, cbar_w = 24, cbar_tip = 36.5;
const cbar_y = d3.scaleLinear().domain([-15, 15]).range([830, 103]);
const cbar = svg.append("g").attr("class", "colorbar");

cbar.selectAll("rect")
  .data(d3.range(bounds.length - 1))
  .enter()
  .append("rect")
  .attr("x", cbar_x)
  .attr("width", cbar_w)
  .attr("y", function (i) { return cbar_y(bounds[i + 1]); })
  .attr("height", function (i) { return cbar_y(bounds[i]) - cbar_y(bounds[i + 1]) + 0.4; })
  .attr("fill", function (i) { return band_colors[i + 1]; });

cbar.append("path")
  .attr("d", "M" + cbar_x + "," + cbar_y(15) + "L" + (cbar_x + cbar_w / 2) + "," + (cbar_y(15) - cbar_tip) + "L" + (cbar_x + cbar_w) + "," + cbar_y(15) + "Z")
  .attr("fill", band_colors[16]);
cbar.append("path")
  .attr("d", "M" + cbar_x + "," + cbar_y(-15) + "L" + (cbar_x + cbar_w / 2) + "," + (cbar_y(-15) + cbar_tip) + "L" + (cbar_x + cbar_w) + "," + cbar_y(-15) + "Z")
  .attr("fill", band_colors[0]);
cbar.append("path")
  .attr("d", "M" + cbar_x + "," + cbar_y(15) + "L" + (cbar_x + cbar_w / 2) + "," + (cbar_y(15) - cbar_tip) + "L" + (cbar_x + cbar_w) + "," + cbar_y(15) +
    "V" + cbar_y(-15) + "L" + (cbar_x + cbar_w / 2) + "," + (cbar_y(-15) + cbar_tip) + "L" + cbar_x + "," + cbar_y(-15) + "Z")
  .attr("fill", "none")
  .attr("stroke", "#444")
  .attr("stroke-width", 0.9);

cbar.append("g")
  .attr("transform", "translate(" + (cbar_x + cbar_w) + ",0)")
  .call(d3.axisRight(cbar_y).tickValues(cbar_ticks).tickSize(5).tickPadding(5).tickFormat(d3.format("d")))
  .call(function (a) {
    a.select(".domain").remove();
    a.selectAll("line").attr("stroke", "#222");
    a.selectAll("text").attr("font-family", null).attr("fill", null).attr("dy", "0.4em").style("font-size", "18px");
  });

const unit_lab = svg.append("text").attr("class", "axis_lab")
  .attr("transform", "translate(1324,466) rotate(-90)")
  .attr("text-anchor", "middle");
unit_lab.append("tspan").text("m s");
unit_lab.append("tspan").attr("dy", -7).style("font-size", "13.5px").text("−1");

// quiver key
const key = svg.append("g").attr("class", "key");
const key_u = [2];
key.selectAll("polygon")
  .data(key_u)
  .enter()
  .append("polygon")
  .attr("points", function (d) { return arrowPath(d * px_per_ms); })
  .attr("transform", "translate(1224,55.5)")
  .attr("fill", "#000");
key.append("text").attr("x", 1234).attr("y", 39).style("font-size", "14px").text(key_u[0]);
key.append("text").attr("x", 1252).attr("y", 33).attr("text-anchor", "middle")
  .style("font-size", "10px").style("font-style", "italic").text("m");
key.append("text").attr("x", 1252).attr("y", 43).attr("text-anchor", "middle")
  .style("font-size", "10px").style("font-style", "italic").text("s");
key.append("line").attr("x1", 1246.5).attr("x2", 1257.5).attr("y1", 35.5).attr("y2", 35.5)
  .attr("stroke", "#222").attr("stroke-width", 0.8);
</script>
</body>
</html>
